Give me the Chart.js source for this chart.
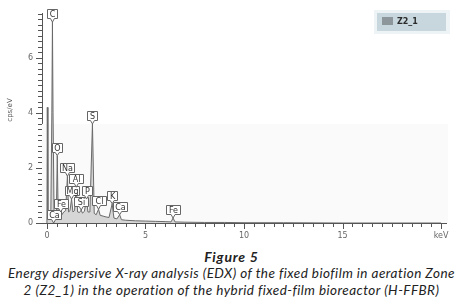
<!DOCTYPE html>
<html>
<head>
<meta charset="utf-8">
<script src="https://cdn.jsdelivr.net/npm/chart.js@4.4.1/dist/chart.umd.min.js"></script>
<style>
  body { margin: 0; background: #fff; }
  #wrap { position: relative; width: 463px; height: 242px; }
  #cap {
    position: absolute; top: 248px; left: 0; width: 463px;
    text-align: center; font-family: Lato, "Open Sans", sans-serif;
    font-style: italic; color: #222; line-height: 17px;
  }
  #cap .fig { font-weight: bold; font-size: 14px; letter-spacing: 0.8px; }
  #cap .txt { font-size: 13.5px; letter-spacing: 0.45px; white-space: nowrap; }
</style>
</head>
<body>
<div id="wrap"><canvas id="edx"></canvas></div>
<div id="cap">
  <div class="fig">Figure 5</div>
  <div class="txt">Energy dispersive X-ray analysis (EDX) of the fixed biofilm in aeration Zone<br>2 (Z2_1) in the operation of the hybrid fixed-film bioreactor (H-FFBR)</div>
</div>
<script>
// spectrum (keV, cps/eV)
const energyKeV = [0, 0.02, 0.05, 0.12, 0.2, 0.25, 0.28, 0.31, 0.36, 0.42, 0.48, 0.525, 0.57, 0.63, 0.7, 0.76, 0.85, 0.95,
  1.04, 1.1, 1.17, 1.25, 1.32, 1.4, 1.49, 1.56, 1.65, 1.74, 1.8, 1.9, 2.01, 2.08, 2.18, 2.31, 2.4, 2.5, 2.62, 2.7,
  2.85, 3.0, 3.15, 3.31, 3.4, 3.55, 3.69, 3.78, 4.0, 4.5, 5.0, 5.5, 6.0, 6.3, 6.4, 6.5, 7.0, 8.0, 9.0, 10, 12, 15, 20];
const cpsValues = [0, 4.2, 0.15, 0.2, 0.5, 4.0, 7.3, 4.0, 0.45, 0.35, 0.4, 2.45, 0.35, 0.3, 0.4, 0.3, 0.4, 0.45,
  1.7, 0.4, 0.45, 0.87, 0.4, 0.45, 1.3, 0.4, 0.38, 0.47, 0.36, 0.42, 0.87, 0.4, 0.4, 3.6, 0.35, 0.3, 0.5, 0.28,
  0.25, 0.22, 0.2, 0.7, 0.18, 0.15, 0.3, 0.12, 0.1, 0.08, 0.07, 0.06, 0.05, 0.04, 0.18, 0.04, 0.03, 0.02, 0.02, 0.01, 0.01, 0, 0];

// element markers
const peakNames = ["C", "Ca", "O", "Fe", "Na", "Mg", "Al", "Si", "P", "S", "Cl", "K", "Ca", "Fe"];
const peakKeV = [0.28, 0.34, 0.525, 0.7, 1.04, 1.25, 1.49, 1.74, 2.01, 2.31, 2.62, 3.31, 3.69, 6.4];
const peakCps = [7.3, 0.0, 2.45, 0.4, 1.7, 0.87, 1.3, 0.47, 0.87, 3.6, 0.5, 0.7, 0.3, 0.18];

const xTickValues = [0, 5, 10, 15, 20];
const yTickValues = [0, 2, 4, 6];
const seriesName = "Z2_1";

const axisColor = "#555";

const spectrumExtras = {
  id: "spectrumExtras",
  beforeDatasetsDraw(chart) {
    const { ctx, chartArea, scales } = chart;
    // faint zoom band behind the lower part of the spectrum
    const yTop = scales.y.getPixelForValue(3.6);
    ctx.save();
    ctx.fillStyle = "#fafafa";
    ctx.fillRect(chartArea.left, yTop, chartArea.right - chartArea.left + 2, chartArea.bottom - yTop);
    ctx.restore();
  },
  afterDraw(chart) {
    const { ctx, chartArea, scales } = chart;
    const x = scales.x, y = scales.y;
    ctx.save();
    ctx.strokeStyle = axisColor;
    ctx.lineWidth = 1;
    // y ticks, every 0.2
    for (let i = 0; i <= 38; i++) {
      const v = i * 0.2;
      const py = Math.round(y.getPixelForValue(v)) + 0.5;
      const len = i % 10 === 0 ? 6 : 4;
      ctx.beginPath();
      ctx.moveTo(chartArea.left - len, py);
      ctx.lineTo(chartArea.left, py);
      ctx.stroke();
    }
    // x ticks, every 0.5
    for (let i = 0; i <= 40; i++) {
      const v = i * 0.5;
      const px = Math.round(x.getPixelForValue(v)) + 0.5;
      const len = i % 10 === 0 ? 6 : 4;
      ctx.beginPath();
      ctx.moveTo(px, chartArea.bottom);
      ctx.lineTo(px, chartArea.bottom + len);
      ctx.stroke();
    }

    // y title
    ctx.fillStyle = "#555";
    ctx.font = "7px 'DejaVu Sans'";
    ctx.translate(10, 110);
    ctx.rotate(-Math.PI / 2);
    ctx.textAlign = "center";
    ctx.textBaseline = "middle";
    ctx.fillText("cps/eV", 0, 0);
    ctx.setTransform(1, 0, 0, 1, 0, 0);

    // element labels
    ctx.font = "8px 'DejaVu Sans'";
    peakNames.forEach((name, i) => {
      const cx = x.getPixelForValue(peakKeV[i]);
      const tip = y.getPixelForValue(peakCps[i]);
      const w = name.length > 1 ? 14 : 10;
      const h = 9;
      const left = Math.round(cx - w / 2) + 0.5;
      const right = left + w;
      const bottom = Math.round(tip - 4) + 0.5;
      const top = bottom - h;
      ctx.beginPath();
      ctx.moveTo(left, top);
      ctx.lineTo(right, top);
      ctx.lineTo(right, bottom);
      ctx.lineTo(cx + 2, bottom);
      ctx.lineTo(cx, tip);
      ctx.lineTo(cx - 2, bottom);
      ctx.lineTo(left, bottom);
      ctx.closePath();
      ctx.fillStyle = "#fff";
      ctx.fill();
      ctx.strokeStyle = "#666";
      ctx.stroke();
      ctx.fillStyle = "#333";
      ctx.textAlign = "center";
      ctx.textBaseline = "middle";
      ctx.fillText(name, (left + right) / 2, (top + bottom) / 2 + 0.5);
    });

    // legend box
    ctx.fillStyle = "#eef3f5";
    ctx.fillRect(374, 10, 76, 24);
    ctx.fillStyle = "#c7d7dd";
    ctx.fillRect(377, 13, 69, 18);
    ctx.fillStyle = "#8d979b";
    ctx.fillRect(382, 17, 11, 8);
    ctx.fillStyle = "#2b2b2b";
    ctx.font = "bold 8px 'DejaVu Sans'";
    ctx.textAlign = "left";
    ctx.textBaseline = "middle";
    ctx.fillText(seriesName, 397, 21.5);
    ctx.restore();
  }
};

new Chart(document.getElementById("edx"), {
  type: "line",
  data: {
    datasets: [{
      label: seriesName,
      data: energyKeV.map((e, i) => ({ x: e, y: cpsValues[i] })),
      borderColor: "#6a6a6a",
      backgroundColor: "#d6d6d6",
      borderWidth: 1,
      fill: "origin",
      pointRadius: 0,
      tension: 0
    }]
  },
  options: {
    responsive: true,
    maintainAspectRatio: false,
    animation: false,
    layout: { padding: { top: 12, right: 17, left: 0, bottom: 0 } },
    plugins: { legend: { display: false }, tooltip: { enabled: false } },
    scales: {
      x: {
        type: "linear",
        min: -0.25,
        max: 20.25,
        grid: { display: false, drawTicks: false },
        border: { display: true, color: axisColor },
        afterBuildTicks: (s) => { s.ticks = xTickValues.map(v => ({ value: v })); },
        afterFit: (s) => { s.height = 19; },
        ticks: {
          padding: 8,
          color: "#666",
          font: { family: "DejaVu Sans", size: 8 },
          maxRotation: 0,
          callback: (v) => (v === 20 ? "keV" : String(v))
        }
      },
      y: {
        min: 0,
        max: 7.6,
        grid: { display: false, drawTicks: false },
        border: { display: true, color: axisColor },
        afterBuildTicks: (s) => { s.ticks = yTickValues.map(v => ({ value: v })); },
        afterFit: (s) => { s.width = 42; },
        ticks: {
          padding: 9,
          color: "#666",
          font: { family: "DejaVu Sans", size: 8 }
        }
      }
    }
  },
  plugins: [spectrumExtras]
});
</script>
</body>
</html>
